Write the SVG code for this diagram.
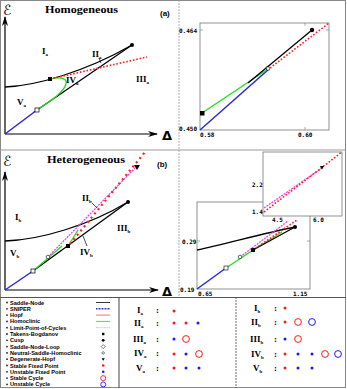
<svg xmlns="http://www.w3.org/2000/svg" width="347" height="389" viewBox="0 0 347 389">
<defs>
<style>
.ax{stroke:#000;stroke-width:1.2;fill:none}
.sn{stroke:#000;stroke-width:1.3;fill:none}
.blue{stroke:#2828e0;stroke-width:1.5;fill:none}
.green{stroke:#22dd22;stroke-width:1.3;fill:none}
.red{stroke:#ff2020;stroke-width:1.6;fill:none;stroke-dasharray:1.6,1.8}
.redb{stroke:#ff2020;stroke-width:2.2;fill:none;stroke-dasharray:2,3.5}
.mag{stroke:#ee44ee;stroke-width:1.3;fill:none;stroke-dasharray:2,1}
.box{stroke:#777;stroke-width:0.8;fill:#fff}
.rn{font-family:"Liberation Serif",serif;font-weight:bold;font-size:9px;fill:#000}
.ttl{font-family:"Liberation Serif",serif;font-weight:bold;font-size:11px;fill:#000}
.pl{font-family:"Liberation Sans",sans-serif;font-weight:bold;font-size:8px;fill:#000}
.tk{font-family:"DejaVu Sans Mono",monospace;font-weight:bold;font-size:6px;fill:#000}
.lg{font-family:"Liberation Sans",sans-serif;font-weight:bold;font-size:5.6px;fill:#000}
.dl{font-family:"DejaVu Sans",sans-serif;font-weight:bold;font-size:13px;fill:#000}
.ep{font-family:"DejaVu Sans","Noto Sans",sans-serif;font-size:14px;fill:#000}
.sf{fill:#ff1a1a}
.uf{fill:#1a1aff}
.sc{fill:none;stroke:#ff1a1a;stroke-width:1}
.uc{fill:none;stroke:#1a1aff;stroke-width:1}
</style>
<marker id="arr" markerWidth="10" markerHeight="6" refX="9" refY="3" orient="auto" markerUnits="userSpaceOnUse">
<path d="M0,0 L10,3 L0,6 L3,3 Z" fill="#000"/>
</marker>
</defs>
<rect x="0" y="0" width="347" height="389" fill="#fff"/>

<g id="frame">
<rect x="0.5" y="0.5" width="345" height="387" fill="none" stroke="#888" stroke-width="1"/>
<line x1="0" y1="150" x2="346" y2="150" stroke="#999" stroke-width="1"/>
<line x1="179" y1="0" x2="179" y2="297" stroke="#999" stroke-width="0.8" stroke-dasharray="2,1"/>
<line x1="0" y1="297.5" x2="346" y2="297.5" stroke="#555" stroke-width="1"/>
<line x1="119" y1="297" x2="119" y2="388" stroke="#444" stroke-width="1"/>
<line x1="236" y1="297" x2="236" y2="388" stroke="#444" stroke-width="0.8" stroke-dasharray="2,1"/>
</g>

<!-- Panel (a) left -->
<g id="panel-a">
<text class="ep" x="3" y="15">ℰ</text>
<text class="ttl" x="45" y="13" textLength="73" lengthAdjust="spacingAndGlyphs">Homogeneous</text>
<text class="pl" x="160" y="16">(a)</text>
<line class="ax" x1="5" y1="134" x2="5" y2="17" marker-end="url(#arr)"/>
<line class="ax" x1="5" y1="134" x2="157" y2="134" marker-end="url(#arr)"/>
<text class="dl" x="162" y="140">Δ</text>
</g>
<g id="curves-a">
<path class="sn" d="M5,87 C35,86 85,72 132,45"/>
<path class="sn" d="M132,45 L37,110"/>
<path class="blue" d="M5,134 L37,110"/>
<path class="green" d="M37,110 C52,100 64,92 66,84 C68,77 57,77 50,79"/>
<path class="red" d="M50,79 L147,57"/>
<line x1="99" y1="58" x2="101" y2="63" stroke="#000" stroke-width="0.7"/>
</g>
<g id="points-a">
<rect x="48" y="77" width="4" height="4" fill="#000"/>
<circle cx="132" cy="45" r="2" fill="#000"/>
<rect x="35" y="108" width="4" height="4" fill="#fff" stroke="#000" stroke-width="0.7"/>
</g>
<g id="labels-a">
<text class="rn" x="42" y="54">I<tspan font-size="5" dy="1.5">a</tspan></text>
<text class="rn" x="92" y="57">II<tspan font-size="5" dy="1.5">a</tspan></text>
<text class="rn" x="66" y="83" font-size="8">IV<tspan font-size="5" dy="1.5">a</tspan></text>
<text class="rn" x="136" y="82">III<tspan font-size="5" dy="1.5">a</tspan></text>
<text class="rn" x="17" y="105">V<tspan font-size="5" dy="1.5">a</tspan></text>
</g>

<!-- Panel (a) right zoom -->
<g id="zoom-a">
<rect class="box" x="200" y="23" width="129" height="107"/>
<line x1="200" y1="30" x2="203" y2="30" stroke="#777" stroke-width="0.6"/>
<line x1="329" y1="30" x2="326" y2="30" stroke="#777" stroke-width="0.6"/>
<line x1="305" y1="130" x2="305" y2="127" stroke="#777" stroke-width="0.6"/>
<line x1="305" y1="23" x2="305" y2="26" stroke="#777" stroke-width="0.6"/>
<path class="blue" d="M200,130 L269,69"/>
<path class="green" d="M202,113 L268,69" stroke-width="1.5"/>
<path class="sn" d="M248,83 L312,30" stroke-width="1.8"/>
<path class="red" d="M270,68 L329,23"/>
<rect x="200" y="111" width="4.5" height="4.5" fill="#000"/>
<circle cx="312" cy="30" r="2.2" fill="#000"/>
<rect x="266.5" y="67" width="3" height="3" fill="#fff" stroke="#000" stroke-width="0.5"/>
<text class="tk" x="179" y="33">0.464</text>
<text class="tk" x="179" y="131">0.450</text>
<text class="tk" x="200" y="137">0.58</text>
<text class="tk" x="298" y="137">0.60</text>
</g>

<!-- Panel (b) left -->
<g id="panel-b">
<text class="ep" x="3" y="166">ℰ</text>
<text class="ttl" x="47" y="163" textLength="78" lengthAdjust="spacingAndGlyphs">Heterogeneous</text>
<text class="pl" x="157" y="167">(b)</text>
<line class="ax" x1="5" y1="290" x2="5" y2="172" marker-end="url(#arr)"/>
<line class="ax" x1="5" y1="290" x2="158" y2="290" marker-end="url(#arr)"/>
<text class="dl" x="162" y="296">Δ</text>
</g>
<g id="curves-b">
<path class="sn" d="M5,241 C40,240 90,225 128,202"/>
<path class="sn" d="M128,202 L33,271"/>
<path class="blue" d="M5,290 L33,271"/>
<path class="green" d="M33,271 L62,246"/>
<path class="green" d="M70,243 L78,230"/>
<path class="mag" d="M48,257 L135,168"/>
<path class="redb" d="M70,244 L145,152"/>
<line x1="92" y1="203" x2="97" y2="208" stroke="#000" stroke-width="0.7"/>
<line x1="87" y1="246" x2="83" y2="236" stroke="#000" stroke-width="0.7"/>
</g>
<g id="points-b">
<rect x="66" y="244" width="4" height="4" fill="#000"/>
<circle cx="128" cy="202" r="2" fill="#000"/>
<rect x="31" y="269" width="4" height="4" fill="#fff" stroke="#000" stroke-width="0.7"/>
<circle cx="48" cy="257" r="1.8" fill="#fff" stroke="#000" stroke-width="0.6"/>
<path d="M134,165 L140,165 L137,170 Z" fill="#000"/>
</g>
<g id="labels-b">
<text class="rn" x="15" y="220">I<tspan font-size="5" dy="1.5">b</tspan></text>
<text class="rn" x="82" y="201">II<tspan font-size="5" dy="1.5">b</tspan></text>
<text class="rn" x="117" y="231">III<tspan font-size="5" dy="1.5">b</tspan></text>
<text class="rn" x="80" y="255">IV<tspan font-size="5" dy="1.5">b</tspan></text>
<text class="rn" x="10" y="256">V<tspan font-size="5" dy="1.5">b</tspan></text>
</g>

<!-- Panel (b) right zoom -->
<g id="zoom-b">
<rect class="box" x="197" y="202" width="113" height="87"/>
<line x1="197" y1="241" x2="200" y2="241" stroke="#777" stroke-width="0.6"/>
<line x1="310" y1="241" x2="307" y2="241" stroke="#777" stroke-width="0.6"/>
<path class="sn" d="M197,250 C225,244 265,233 295,227"/>
<path class="blue" d="M197,289 L226,268"/>
<path class="green" d="M226,268 L253,250"/>
<path class="green" d="M253,250 L282,232"/>
<path class="sn" d="M253,250 L295,227"/>
<path class="mag" d="M240,257 L288,221"/>
<path class="red" d="M253,250 L297,220"/>
<rect x="224" y="266" width="4" height="4" fill="#fff" stroke="#000" stroke-width="0.6"/>
<circle cx="240" cy="257" r="1.8" fill="#fff" stroke="#000" stroke-width="0.6"/>
<rect x="251" y="248" width="4" height="4" fill="#000"/>
<circle cx="295" cy="227" r="2" fill="#000"/>
<text class="tk" x="182" y="244">0.29</text>
<text class="tk" x="180" y="292">0.19</text>
<text class="tk" x="198" y="296">0.65</text>
<text class="tk" x="293" y="296">1.15</text>
</g>
<g id="inset-b">
<rect class="box" x="263" y="152" width="79" height="64"/>
<path class="mag" d="M264,208 L322,168" stroke-width="1.5"/>
<path class="red" d="M264,212 L342,152" stroke-width="1.3"/>
<path d="M320,166 L324,166 L322,169.5 Z" fill="#000"/>
<text class="tk" x="252" y="187">2.2</text>
<text class="tk" x="252" y="214">1.4</text>
<text class="tk" x="272" y="222">4.5</text>
<text class="tk" x="313" y="222">6.0</text>
</g>

<!-- Legend -->
<g id="legend">
<g fill="#222">
<circle cx="7" cy="302.5" r="0.9"/><circle cx="7" cy="308.8" r="0.9" fill="#800"/><circle cx="7" cy="315.1" r="0.9"/><circle cx="7" cy="321.4" r="0.9"/><circle cx="7" cy="327.7" r="0.9"/><circle cx="7" cy="334" r="0.9"/><circle cx="7" cy="340.3" r="0.9"/><circle cx="7" cy="346.6" r="0.9"/><circle cx="7" cy="352.9" r="0.9"/><circle cx="7" cy="359.2" r="0.9"/><circle cx="7" cy="365.5" r="0.9"/><circle cx="7" cy="371.8" r="0.9"/><circle cx="7" cy="378.1" r="0.9"/><circle cx="7" cy="384.4" r="0.9"/>
</g>
<text class="lg" x="10" y="304.5">Saddle-Node</text>
<text class="lg" x="10" y="310.8">SNIPER</text>
<text class="lg" x="10" y="317.1">Hopf</text>
<text class="lg" x="10" y="323.4">Homoclinic</text>
<text class="lg" x="10" y="329.7">Limit-Point-of-Cycles</text>
<text class="lg" x="10" y="336">Takens-Bogdanov</text>
<text class="lg" x="10" y="342.3">Cusp</text>
<text class="lg" x="10" y="348.6">Saddle-Node-Loop</text>
<text class="lg" x="10" y="354.9">Neutral-Saddle-Homoclinic</text>
<text class="lg" x="10" y="361.2">Degenerate-Hopf</text>
<text class="lg" x="10" y="367.5">Stable Fixed Point</text>
<text class="lg" x="10" y="373.8">Unstable Fixed Point</text>
<text class="lg" x="10" y="380.1">Stable Cycle</text>
<text class="lg" x="10" y="386.4">Unstable Cycle</text>
<line x1="96" y1="302.5" x2="110" y2="302.5" stroke="#000" stroke-width="0.8"/>
<line x1="96" y1="308.8" x2="110" y2="308.8" stroke="#3030d0" stroke-width="1.4" stroke-dasharray="1,0.5"/>
<line x1="96" y1="315.1" x2="110" y2="315.1" stroke="#ff7070" stroke-width="1"/>
<line x1="96" y1="321.4" x2="110" y2="321.4" stroke="#33ee33" stroke-width="1"/>
<line x1="96" y1="327.7" x2="110" y2="327.7" stroke="#f0a0f0" stroke-width="1" stroke-dasharray="1,0.6"/>
<rect x="102" y="332.8" width="2.4" height="2.4" fill="#000"/>
<circle cx="103.2" cy="340.3" r="1.4" fill="#000"/>
<path d="M103.2,344.6 L105.2,346.6 L103.2,348.6 L101.2,346.6 Z" fill="#fff" stroke="#000" stroke-width="0.5"/>
<circle cx="103.2" cy="352.9" r="1.2" fill="#fff" stroke="#000" stroke-width="0.5"/>
<path d="M101.6,358.2 L104.8,358.2 L103.2,360.8 Z" fill="#000"/>
<circle cx="103.2" cy="365.5" r="1.3" fill="#ff1a1a"/>
<circle cx="103.2" cy="371.8" r="1.3" fill="#1a1aff"/>
<circle cx="103.2" cy="378.1" r="2.5" fill="none" stroke="#ff1a1a" stroke-width="0.9"/>
<circle cx="103.2" cy="384.4" r="2.5" fill="none" stroke="#1a1aff" stroke-width="0.9"/>
</g>

<!-- Table homogeneous -->
<g id="table-a">
<text class="rn" x="137" y="313">I<tspan font-size="5" dy="1.5">a</tspan></text>
<text class="rn" x="134" y="326">II<tspan font-size="5" dy="1.5">a</tspan></text>
<text class="rn" x="133" y="342">III<tspan font-size="5" dy="1.5">a</tspan></text>
<text class="rn" x="134" y="356">IV<tspan font-size="5" dy="1.5">a</tspan></text>
<text class="rn" x="136" y="371">V<tspan font-size="5" dy="1.5">a</tspan></text>
<g class="rn"><text x="156" y="313">:</text><text x="156" y="326">:</text><text x="156" y="342">:</text><text x="156" y="356">:</text><text x="156" y="371">:</text></g>
<circle class="sf" cx="174" cy="311" r="1.5"/>
<circle class="sf" cx="174" cy="323" r="1.5"/><circle class="sf" cx="186" cy="323" r="1.5"/><circle class="uf" cx="198" cy="323" r="1.5"/>
<circle class="uf" cx="174" cy="339" r="1.5"/><circle class="sc" cx="186" cy="339" r="3.4"/>
<circle class="sf" cx="174" cy="354" r="1.5"/><circle class="uf" cx="186" cy="354" r="1.5"/><circle class="sc" cx="199" cy="354" r="3.4"/>
<circle class="sf" cx="174" cy="368" r="1.5"/><circle class="uf" cx="186" cy="368" r="1.5"/><circle class="uf" cx="199" cy="368" r="1.5"/>
</g>

<!-- Table heterogeneous -->
<g id="table-b">
<text class="rn" x="254" y="311">I<tspan font-size="5" dy="1.5">b</tspan></text>
<text class="rn" x="251" y="325">II<tspan font-size="5" dy="1.5">b</tspan></text>
<text class="rn" x="250" y="342">III<tspan font-size="5" dy="1.5">b</tspan></text>
<text class="rn" x="251" y="357">IV<tspan font-size="5" dy="1.5">b</tspan></text>
<text class="rn" x="253" y="371">V<tspan font-size="5" dy="1.5">b</tspan></text>
<g class="rn"><text x="274" y="311">:</text><text x="274" y="325">:</text><text x="274" y="342">:</text><text x="274" y="357">:</text><text x="274" y="371">:</text></g>
<circle class="sf" cx="285" cy="308" r="1.5"/>
<circle class="sf" cx="285" cy="322" r="1.5"/><circle class="sc" cx="298" cy="322" r="3.4"/><circle class="uc" cx="312" cy="322" r="3.4"/>
<circle class="uf" cx="285" cy="339" r="1.5"/><circle class="sc" cx="298" cy="339" r="3.4"/>
<circle class="sf" cx="285" cy="354" r="1.5"/><circle class="uf" cx="298" cy="354" r="1.5"/><circle class="uf" cx="312" cy="354" r="1.5"/><circle class="sc" cx="325" cy="354" r="3.4"/><circle class="uc" cx="338" cy="354" r="3.4"/>
<circle class="sf" cx="285" cy="368" r="1.5"/><circle class="uf" cx="298" cy="368" r="1.5"/><circle class="uf" cx="312" cy="368" r="1.5"/>
</g>
</svg>
